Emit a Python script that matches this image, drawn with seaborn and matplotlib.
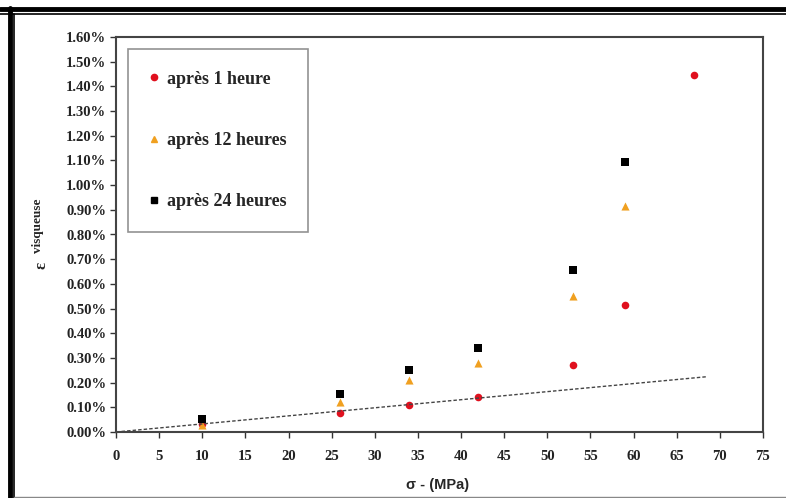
import numpy as np
import matplotlib.pyplot as plt
import seaborn as sns
from matplotlib.lines import Line2D
from matplotlib.ticker import MultipleLocator, PercentFormatter

# stress (MPa) and viscous strain (fraction)
sigma_1h = [10, 26, 34, 42, 53, 59, 67]
eps_1h = [0.00032, 0.00078, 0.00109, 0.00143, 0.00271, 0.00514, 0.01446]

sigma_12h = [10, 26, 34, 42, 53, 59]
eps_12h = [0.00030, 0.00122, 0.00210, 0.00280, 0.00551, 0.00915]

sigma_24h = [10, 26, 34, 42, 53, 59]
eps_24h = [0.00053, 0.00154, 0.00251, 0.00340, 0.00656, 0.01094]

trend_x = [0, 68.5]
trend_y = [0, 0.00224]

labels = ["après 1 heure", "après 12 heures", "après 24 heures"]

sns.set_theme(style="white")
serif = ["Liberation Serif", "DejaVu Serif"]

fig = plt.figure(figsize=(7.86, 4.98), dpi=100)
ax = fig.add_axes([116 / 786, 1 - 432 / 498, 647 / 786, 395 / 498])

sns.lineplot(x=trend_x, y=trend_y, ax=ax, color="#444444", lw=1.0,
             linestyle=(0, (2.5, 1.5)))
sns.scatterplot(x=sigma_1h, y=eps_1h, ax=ax, color="#e0101e", marker="o",
                s=30, linewidth=0)
sns.scatterplot(x=sigma_12h, y=eps_12h, ax=ax, color="#f0a020", marker="^",
                s=34, linewidth=0)
sns.scatterplot(x=sigma_24h, y=eps_24h, ax=ax, color="black", marker="s",
                s=28, linewidth=0)

ax.set_xlim(0, 75)
ax.set_ylim(0, 0.016)
ax.xaxis.set_major_locator(MultipleLocator(5))
ax.yaxis.set_major_locator(MultipleLocator(0.001))
ax.yaxis.set_major_formatter(PercentFormatter(xmax=1, decimals=2))
ax.tick_params(axis="both", direction="out", length=4, width=1,
               color="#333333", bottom=True, left=True, pad=3)
ax.tick_params(axis="x", pad=9)
for lab in ax.get_xticklabels() + ax.get_yticklabels():
    lab.set_family(serif)
    lab.set_fontweight("bold")
    lab.set_fontsize(10.5)
    lab.set_color("#222222")
for sp in ax.spines.values():
    sp.set_color("#444444")
    sp.set_linewidth(1.5)

handles = [
    Line2D([], [], ls="", marker="o", color="#e0101e", markersize=4.5),
    Line2D([], [], ls="", marker="^", color="#f0a020", markersize=5),
    Line2D([], [], ls="", marker="s", color="black", markersize=4.5),
]
leg = ax.legend(handles, labels, loc="upper left",
                bbox_to_anchor=(12 / 647, 383 / 395), borderaxespad=0,
                prop={"family": serif, "weight": "bold", "size": 13},
                frameon=True, fancybox=False, edgecolor="#777777",
                labelspacing=2.45, borderpad=1.2, handlelength=0.5,
                handletextpad=0.45)
leg.get_frame().set_linewidth(1.2)

fig.text(42 / 786, 1 - 265 / 498, "ε", rotation=90, ha="center", va="center",
         family=serif, fontweight="bold", fontsize=12)
fig.text(38 / 786, 1 - 226 / 498, "visqueuse", rotation=90, ha="center",
         va="center", family=serif, fontweight="bold", fontsize=9.5)
fig.text(438 / 786, 1 - 485 / 498, "σ - (MPa)", ha="center", va="center",
         family=["Liberation Sans", "DejaVu Sans"], fontweight="bold",
         fontsize=10.5)

# outer double frame
fig.add_artist(Line2D([0, 1], [1 - 9.5 / 498] * 2, color="black", lw=3.5))
fig.add_artist(Line2D([0, 1], [1 - 14.5 / 498] * 2, color="black", lw=1.2))
fig.add_artist(Line2D([10 / 786] * 2, [0, 1 - 8 / 498], color="black", lw=3.5))
fig.add_artist(Line2D([14.5 / 786] * 2, [0, 1 - 14 / 498], color="black", lw=1.2))
fig.add_artist(Line2D([14 / 786, 1], [1 / 498] * 2, color="#888888", lw=1))

fig.savefig("out.png", dpi=100)
